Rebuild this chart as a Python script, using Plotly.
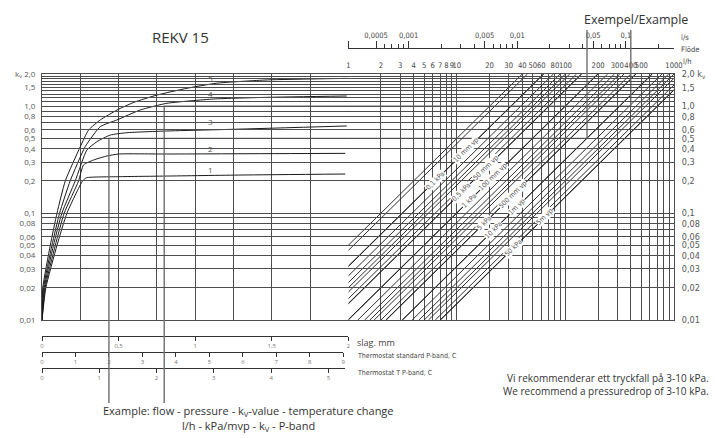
import math
import plotly.graph_objects as go

# ---------------- data ----------------
# valve characteristic curves: stroke (slag, mm) -> kv
curve_names = ["1", "2", "3", "4", "5"]
slag_1 = [0, 0.025, 0.098, 0.163, 0.265, 0.29, 0.5, 0.815, 1.3, 1.98]
kv_1 = [0.01, 0.02, 0.05, 0.1, 0.2, 0.214, 0.219, 0.222, 0.227, 0.232]
slag_2 = [0, 0.02, 0.087, 0.145, 0.239, 0.271, 0.337, 0.424, 0.5, 0.815, 1.98]
kv_2 = [0.01, 0.02, 0.05, 0.1, 0.2, 0.282, 0.314, 0.342, 0.357, 0.357, 0.362]
slag_3 = [0, 0.015, 0.075, 0.13, 0.217, 0.293, 0.359, 0.446, 0.554, 0.815, 1.25, 1.99]
kv_3 = [0.01, 0.02, 0.05, 0.1, 0.2, 0.389, 0.466, 0.537, 0.565, 0.586, 0.608, 0.653]
slag_4 = [0, 0.01, 0.065, 0.115, 0.184, 0.282, 0.38, 0.489, 0.641, 0.815, 1.119, 1.468, 1.99]
kv_4 = [0.01, 0.02, 0.05, 0.1, 0.2, 0.418, 0.643, 0.743, 0.921, 1.064, 1.167, 1.21, 1.245]
slag_5 = [0, 0.005, 0.054, 0.098, 0.152, 0.25, 0.304, 0.38, 0.49, 0.6, 0.75, 0.946, 1.14, 1.47, 1.99]
kv_5 = [0.01, 0.02, 0.05, 0.1, 0.2, 0.418, 0.598, 0.743, 0.921, 1.087, 1.27, 1.47, 1.64, 1.76, 1.82]
curve_label_slag = [1.10, 1.10, 1.10, 1.10, 1.10]
curve_label_kv = [0.257, 0.404, 0.716, 1.32, 1.82]

# pressure-drop lines (kPa) and water-column lines (mm vp)
dp_kpa = [0.04, 0.05, 0.1, 0.15, 0.2, 0.25, 0.3, 0.4, 0.5, 1, 1.5, 2, 2.5, 3, 4, 5,
          10, 15, 20, 25, 30, 40, 50]
dp_mmvp = [10, 50, 100, 500, 1000, 5000]
KPA_PER_MM = 0.00981

# labels along the pressure lines: (text, dp in kPa, kv where label sits)
line_label_text = ["0,1 kPa", "10 mm vp", "0,5 kPa", "50 mm vp", "1 kPa", "100 mm vp",
                   "5 kPa", "500 mm vp", "10 kPa", "1m vp", "50 kPa", "5m vp"]
line_label_dp = [0.1, 0.0981, 0.5, 0.49, 1, 0.981, 5, 4.9, 10, 9.81, 50, 49.05]
line_label_kv = [0.2, 0.39, 0.157, 0.264, 0.13, 0.2175, 0.0807, 0.1476, 0.0695, 0.114, 0.0471, 0.0918]

# kv axis
kv_grid = [0.01, 0.02, 0.03, 0.04, 0.05, 0.06, 0.07, 0.08, 0.09, 0.1,
           0.2, 0.3, 0.4, 0.5, 0.6, 0.7, 0.8, 0.9, 1.0,
           1.1, 1.2, 1.3, 1.4, 1.5, 1.6, 1.7, 1.8, 1.9, 2.0]
kv_labels = {0.01: "0,01", 0.02: "0,02", 0.03: "0,03", 0.04: "0,04", 0.05: "0,05",
             0.06: "0,06", 0.08: "0,08", 0.1: "0,1", 0.2: "0,2", 0.3: "0,3", 0.4: "0,4",
             0.5: "0,5", 0.6: "0,6", 0.8: "0,8", 1.0: "1,0", 1.5: "1,5"}

# flow axis l/h
flow_grid = [1, 2, 3, 4, 5, 6, 7, 8, 9, 10, 20, 30, 40, 50, 60, 70, 80, 90,
             100, 200, 300, 400, 500, 600, 700, 800, 900, 1000]
flow_labelled = [1, 2, 3, 4, 5, 6, 7, 8, 9, 10, 20, 30, 40, 50, 60, 80, 100,
                 200, 300, 400, 500, 1000]
# flow axis l/s
ls_major = [0.0005, 0.001, 0.005, 0.01, 0.05, 0.1]
ls_major_text = ["0,0005", "0,001", "0,005", "0,01", "0,05", "0,1"]
ls_minor = [0.0006, 0.0007, 0.0008, 0.0009, 0.002, 0.003, 0.004, 0.006, 0.007,
            0.008, 0.009, 0.02, 0.03, 0.04, 0.06, 0.07, 0.08, 0.09, 0.2]
LH_PER_LS = 3600

# bottom scales
slag_ticks = [0, 0.5, 1, 1.5, 2]
slag_text = ["0", "0,5", "1", "1,5", "2"]
pband_std_ticks = [0, 1, 2, 3, 4, 5, 6, 7, 8, 9]
pband_t_ticks = [0, 1, 2, 3, 4, 5]
slag_grid = [0, 0.25, 0.5, 0.75, 1.0, 1.25, 1.5, 1.75, 2.0]

# example
ex_slag = [0.437, 0.798]
ex_kv = [0.5, 1.0]
ex_flow = [158, 400]

# ---------------- layout geometry ----------------
W, H = 715, 438
ML, MR, MT, MB = 42, 41, 4, 10
PW, PH = W - ML - MR, H - MT - MB


def px(x):
    return (x - ML) / PW


def py(y):
    return (H - MB - y) / PH


D_SPLIT = px(348.3)
Y_DOM = [py(320), py(74)]

MAIN = "Open Sans, Noto Sans, sans-serif"
COND = "Liberation Sans Narrow, DejaVu Sans Condensed, Roboto Condensed, sans-serif"
GRID = "#4d4d4d"
INK = "#1a1a1a"

fig = go.Figure()

# curves
for name, sx, kv in zip(curve_names, [slag_1, slag_2, slag_3, slag_4, slag_5],
                        [kv_1, kv_2, kv_3, kv_4, kv_5]):
    fig.add_trace(go.Scatter(x=sx, y=kv, mode="lines", xaxis="x", yaxis="y",
                             line=dict(color=INK, width=1, shape="spline", smoothing=0.5),
                             name=name, hoverinfo="skip", showlegend=False))


# pressure lines: Q[l/h] = 100 * kv * sqrt(dp[kPa])
def add_dp_line(dp):
    s = math.sqrt(dp)
    kv_lo = max(0.01, 1 / (100 * s))
    kv_hi = min(2.0, 1000 / (100 * s))
    fig.add_trace(go.Scatter(x=[100 * kv_lo * s, 100 * kv_hi * s], y=[kv_lo, kv_hi],
                             mode="lines", xaxis="x2", yaxis="y",
                             line=dict(color=INK, width=0.9), hoverinfo="skip",
                             showlegend=False))


for dp in dp_kpa:
    add_dp_line(dp)
for mm in dp_mmvp:
    add_dp_line(mm * KPA_PER_MM)

# example lines (inside the chart)
EXC = "#6e6e6e"
for s, k, q in zip(ex_slag, ex_kv, ex_flow):
    fig.add_trace(go.Scatter(x=[s, s, 2.0], y=[0.01, k, k], mode="lines", xaxis="x", yaxis="y",
                             line=dict(color=EXC, width=1.4), hoverinfo="skip", showlegend=False))
    fig.add_trace(go.Scatter(x=[1, q, q], y=[k, k, 2.0], mode="lines", xaxis="x2", yaxis="y",
                             line=dict(color=EXC, width=1.4), hoverinfo="skip", showlegend=False))


# dummy invisible traces so that the extra scales are drawn
def dummy(xa, ya, xs, ys):
    fig.add_trace(go.Scatter(x=xs, y=ys, xaxis=xa, yaxis=ya, mode="markers",
                             marker=dict(opacity=0, size=1), hoverinfo="skip", showlegend=False))


dummy("x3", "y", [1, 1000], [0.01, 0.01])
dummy("x4", "y", [0, 2], [0.01, 0.01])
dummy("x5", "y", [0, 9], [0.01, 0.01])
dummy("x6", "y", [0, 5], [0.01, 0.01])
dummy("x2", "y2", [1, 1000], [0.01, 2.0])

shapes = []
for s, k, q in zip(ex_slag, ex_kv, ex_flow):
    shapes.append(dict(type="line", xref="x", yref="paper", x0=s, x1=s, y0=py(320), y1=py(403),
                       line=dict(color=EXC, width=1.4)))
    shapes.append(dict(type="line", xref="x2", yref="paper", x0=q, x1=q, y0=py(74), y1=py(30),
                       line=dict(color=EXC, width=1.4)))

ann = []
# curve labels
for name, s, k in zip(curve_names, curve_label_slag, curve_label_kv):
    ann.append(dict(text=name, x=s, y=math.log10(k), xref="x", yref="y", showarrow=False,
                    font=dict(family=MAIN, size=8, color="#555")))
# pressure line labels
for t, dp, k in zip(line_label_text, line_label_dp, line_label_kv):
    q = 100 * k * math.sqrt(dp)
    ann.append(dict(text=t, x=math.log10(q), y=math.log10(k), xref="x2", yref="y",
                    showarrow=False, textangle=-44.5, bgcolor="white", borderpad=0,
                    font=dict(family=COND, size=7, color="#555")))


def txt(t, x, y, size, family=MAIN, color="#333", xanchor="center"):
    ann.append(dict(text=t, x=px(x), y=py(y), xref="paper", yref="paper", showarrow=False,
                    xanchor=xanchor, yanchor="middle", font=dict(family=family, size=size, color=color)))


txt("REKV 15", 180, 37, 15)
txt("Exempel/Example", 636, 20, 12.5)
txt("l/s", 679, 37, 7.5, COND, "#444", "left")
txt("Flöde", 679, 49, 7.5, COND, "#444", "left")
txt("l/h", 681, 61, 7.5, COND, "#444", "left")
txt("slag. mm", 355, 342, 9, MAIN, "#444", "left")
txt("Thermostat standard P-band, C", 355, 356, 7, COND, "#444", "left")
txt("Thermostat T P-band, C", 355, 373, 7, COND, "#444", "left")
txt("Example: flow - pressure - k<sub>V</sub>-value - temperature change", 248, 411, 11)
txt("l/h - kPa/mvp - k<sub>V</sub> - P-band", 248, 426, 11)
txt("Vi rekommenderar ett tryckfall på 3-10 kPa.", 711, 378, 10, MAIN, "#333", "right")
txt("We recommend a pressuredrop of 3-10 kPa.", 711, 391, 10, MAIN, "#333", "right")

kv_left_text = [("k<sub>v</sub> 2,0" if v == 2.0 else kv_labels.get(v, "")) for v in kv_grid]
kv_right_text = [("2,0 k<sub>v</sub>" if v == 2.0 else kv_labels.get(v, "")) for v in kv_grid]
flow_text = [(str(v) if v in flow_labelled else "") for v in flow_grid]

LOGR = [-2, math.log10(2.0)]
TRANSP = "rgba(0,0,0,0)"

fig.update_layout(
    width=W, height=H, margin=dict(l=ML, r=MR, t=MT, b=MB, autoexpand=False),
    paper_bgcolor="white", plot_bgcolor=TRANSP, showlegend=False,
    shapes=shapes, annotations=ann,
    xaxis=dict(domain=[0, D_SPLIT], range=[0, 2], tickmode="array", tickvals=slag_grid,
               showticklabels=False, ticks="", showgrid=True, gridcolor=GRID, gridwidth=1,
               showline=True, linecolor=GRID, linewidth=1, mirror=True, zeroline=False,
               anchor="y", automargin=False),
    xaxis2=dict(domain=[D_SPLIT, 1], type="log", range=[0, 3], tickmode="array",
                tickvals=flow_grid, ticktext=flow_text, side="top", ticks="", tickangle=0,
                tickfont=dict(family=COND, size=7.6, color="#444"), ticklabelstandoff=2,
                showgrid=True, gridcolor=GRID, gridwidth=1, showline=True, linecolor=GRID,
                mirror=True, anchor="y", zeroline=False, automargin=False),
    xaxis3=dict(domain=[D_SPLIT, 1], type="log", range=[0, 3], anchor="free",
                position=py(48), side="top", tickmode="array", tickangle=0,
                tickvals=[1] + [v * LH_PER_LS for v in ls_major], ticktext=[""] + ls_major_text,
                ticks="outside", ticklen=7, tickcolor="#333", tickwidth=1,
                minor=dict(tickmode="array", tickvals=[v * LH_PER_LS for v in ls_minor],
                           ticks="outside", ticklen=4, tickcolor="#333", showgrid=False),
                showline=True, linecolor="#333", linewidth=1, showgrid=False, zeroline=False,
                tickfont=dict(family=COND, size=7.5, color="#444"), automargin=False),
    xaxis4=dict(domain=[0, D_SPLIT], range=[0, 2], anchor="free", position=py(336),
                side="bottom", tickmode="array", tickvals=slag_ticks, ticktext=slag_text,
                ticks="outside", ticklen=4, tickcolor="#333", showline=True, linecolor="#333",
                showgrid=False, zeroline=False, tickangle=0, automargin=False,
                tickfont=dict(family=MAIN, size=6, color="#777")),
    xaxis5=dict(domain=[0, px(343.3)], range=[0, 9], anchor="free", position=py(352),
                side="bottom", tickmode="array", tickvals=pband_std_ticks,
                ticks="outside", ticklen=4, tickcolor="#333", showline=True, linecolor="#333",
                showgrid=False, zeroline=False, tickangle=0, automargin=False,
                tickfont=dict(family=MAIN, size=6, color="#777")),
    xaxis6=dict(domain=[0, px(345)], range=[0, 5.29], anchor="free", position=py(368),
                side="bottom", tickmode="array", tickvals=pband_t_ticks,
                ticks="outside", ticklen=4, tickcolor="#333", showline=True, linecolor="#333",
                showgrid=False, zeroline=False, tickangle=0, automargin=False,
                tickfont=dict(family=MAIN, size=6, color="#777")),
    yaxis=dict(domain=Y_DOM, type="log", range=LOGR, tickmode="array", tickvals=kv_grid,
               ticktext=kv_left_text, ticks="", showgrid=True, gridcolor=GRID, gridwidth=1,
               showline=True, linecolor=GRID, zeroline=False, anchor="x", automargin=False,
               tickfont=dict(family=MAIN, size=8, color="#555"), ticklabelstandoff=4),
    yaxis2=dict(domain=Y_DOM, type="log", range=LOGR, overlaying="y", side="right",
                anchor="x2", tickmode="array", tickvals=kv_grid, ticktext=kv_right_text,
                ticks="", showgrid=False, showline=True, linecolor=GRID, zeroline=False,
                automargin=False, tickfont=dict(family=COND, size=9, color="#555"),
                ticklabelstandoff=5),
)

fig.write_html("out.html", config={"displayModeBar": False},
               post_script="document.body.style.margin='0';")
